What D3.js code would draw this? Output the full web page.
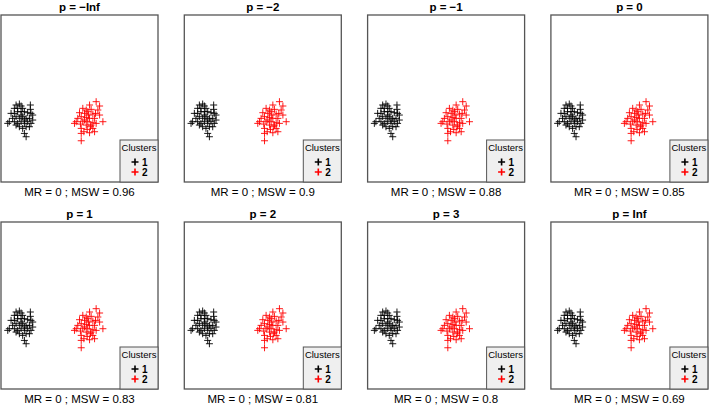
<!DOCTYPE html>
<html>
<head>
<meta charset="utf-8">
<title>Clusters by p</title>
<script src="https://d3js.org/d3.v7.min.js"></script>
<style>
body { margin: 0; background: #fff; }
svg text { font-family: "Liberation Sans", Arial, sans-serif; }
.frame { fill: none; stroke: #555; stroke-width: 1.3px; }
.legend rect { fill: #efefef; stroke: #555; stroke-width: 1px; }
.title { font-weight: bold; font-size: 11.5px; text-anchor: middle; }
.caption { font-size: 11.5px; text-anchor: middle; }
</style>
</head>
<body>
<svg id="chart" width="709" height="405"></svg>
<script>
// panel labels and the MSW value under each panel
var pLabels = ["\u2212Inf", "\u22122", "\u22121", "0", "1", "2", "3", "Inf"];
var mswValues = [0.96, 0.9, 0.88, 0.85, 0.83, 0.81, 0.8, 0.69];
var mrValues = [0, 0, 0, 0, 0, 0, 0, 0];
var clusterNames = ["1", "2"];
var clusterColors = ["#000000", "#ff0000"];

// same points in every panel
var cluster1 = [
  [0.96, 4.61], [1.17, 4.67], [1.28, 4.55], [0.85, 4.41], [1.06, 4.41],
  [1.38, 4.41], [1.87, 4.61], [1.87, 4.35], [0.64, 4.11], [0.85, 4.11],
  [1.06, 4.21], [1.28, 4.21], [1.49, 4.21], [1.70, 4.15], [1.91, 4.11],
  [2.02, 4.01], [0.43, 3.51], [0.74, 3.81], [0.96, 3.91], [1.17, 3.81],
  [1.38, 3.91], [1.60, 3.81], [1.81, 3.81], [2.02, 3.71], [0.53, 3.61],
  [0.85, 3.61], [1.06, 3.51], [1.28, 3.61], [1.49, 3.51], [1.70, 3.61],
  [1.91, 3.51], [1.17, 3.31], [1.38, 3.21], [1.60, 3.31], [1.81, 3.31],
  [1.49, 2.91], [1.60, 2.71], [0.96, 3.41], [1.28, 4.01], [1.49, 3.71]
];
var cluster2 = [
  [6.06, 4.81], [5.64, 4.61], [6.28, 4.55], [5.21, 4.41], [5.74, 4.35],
  [6.17, 4.31], [5.00, 4.15], [5.32, 4.11], [5.53, 4.21], [5.85, 4.07],
  [6.28, 4.01], [5.11, 3.91], [5.43, 3.87], [5.64, 3.81], [5.96, 3.81],
  [4.79, 3.61], [5.21, 3.61], [5.53, 3.61], [5.85, 3.55], [4.68, 3.51],
  [5.06, 3.47], [5.43, 3.41], [5.74, 3.41], [6.06, 3.51], [6.49, 3.61],
  [5.11, 3.21], [5.49, 3.15], [5.85, 3.21], [5.96, 3.01], [5.11, 2.91],
  [5.64, 2.95], [5.11, 2.47], [5.32, 3.71], [5.57, 4.01], [4.89, 3.81],
  [5.70, 3.31], [5.28, 3.01], [5.43, 4.31], [6.02, 4.11]
];
var clusters = [cluster1, cluster2];

var boxW = 157, boxH = 167;
var colStep = 183.3, rowStep = 207;
var left0 = 1, top0 = 15;

var x = d3.scaleLinear().domain([0, 10]).range([0, boxW]);
var y = d3.scaleLinear().domain([0, 10]).range([boxH, 0]);

var svg = d3.select("#chart");

var panels = svg.selectAll("g.panel")
  .data(pLabels.map(function (p, i) { return {p: p, msw: mswValues[i], mr: mrValues[i], i: i}; }))
  .enter().append("g")
    .attr("class", "panel")
    .attr("transform", function (d) {
      var col = d.i % 4, row = Math.floor(d.i / 4);
      return "translate(" + (left0 + col * colStep) + "," + (top0 + row * rowStep) + ")";
    });

panels.append("text")
  .attr("class", "title")
  .attr("x", boxW / 2)
  .attr("y", -4)
  .text(function (d) { return "p = " + d.p; });

panels.append("text")
  .attr("class", "caption")
  .attr("x", boxW / 2)
  .attr("y", boxH + 14)
  .text(function (d) { return "MR = " + d.mr + " ; MSW = " + d.msw; });

// points as '+' symbols
var plus = "M-3.5,0H3.5M0,-3.5V3.5";
panels.each(function () {
  var g = d3.select(this);
  clusters.forEach(function (pts, k) {
    g.append("g").selectAll("path")
      .data(pts)
      .enter().append("path")
        .attr("d", plus)
        .attr("transform", function (d) { return "translate(" + x(d[0]) + "," + y(d[1]) + ")"; })
        .attr("stroke", clusterColors[k])
        .attr("stroke-width", 0.9)
        .attr("fill", "none");
  });
});

panels.append("rect")
  .attr("class", "frame")
  .attr("width", boxW)
  .attr("height", boxH);

// legend
var lw = 38, lh = 42;
var legend = panels.append("g")
  .attr("class", "legend")
  .attr("transform", "translate(" + (boxW - lw) + "," + (boxH - lh) + ")");
legend.append("rect").attr("width", lw).attr("height", lh);
legend.append("text")
  .attr("x", lw / 2).attr("y", 11)
  .attr("text-anchor", "middle")
  .attr("font-size", "9.5px")
  .text("Clusters");
clusterNames.forEach(function (name, k) {
  var row = legend.append("g").attr("transform", "translate(15," + (22 + k * 10) + ")");
  row.append("path")
    .attr("d", "M-3.5,0H3.5M0,-3.5V3.5")
    .attr("stroke", clusterColors[k])
    .attr("stroke-width", 1.6);
  row.append("text")
    .attr("x", 7).attr("y", 3.5)
    .attr("font-size", "10px")
    .attr("font-weight", "bold")
    .text(name);
});
</script>
</body>
</html>
